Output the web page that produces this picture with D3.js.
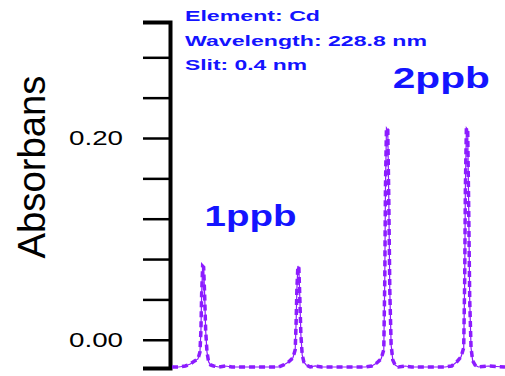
<!DOCTYPE html>
<html>
<head>
<meta charset="utf-8">
<script src="https://cdn.jsdelivr.net/npm/d3@7"></script>
<style>
  body { margin: 0; background: #fff; }
  svg { display: block; }
</style>
</head>
<body>
<div id="plot"><svg width="505" height="376"></svg></div>
<script>
// signal trace: time (s) and absorbance
const time = [0, 2, 4, 5.5, 6.8, 7.8, 8.4, 8.7, 8.9, 9.2, 9.5, 9.8, 10.1, 10.5, 11.0, 11.6, 12.5, 14, 16, 18,
  30, 32, 33.5, 35, 36.3, 37.0, 37.3, 37.5, 37.8, 38.1, 38.4, 38.7, 39.1, 39.6, 40.3, 41.5, 43, 45,
  56, 58, 60, 61.5, 62.8, 63.6, 63.9, 64.1, 64.4, 64.8, 65.1, 65.4, 65.8, 66.3, 67, 68, 70, 72,
  80, 82, 84, 85.5, 86.8, 87.6, 87.9, 88.1, 88.4, 88.8, 89.1, 89.4, 89.8, 90.3, 91, 92, 95, 100];
const absorb = [-0.027, -0.027, -0.026, -0.024, -0.021, -0.019, -0.012, 0.01, 0.045, 0.073, 0.072, 0.045, 0.01, -0.012, -0.022, -0.025, -0.026, -0.027, -0.026, -0.027,
  -0.027, -0.027, -0.025, -0.022, -0.018, -0.01, 0.02, 0.05, 0.073, 0.071, 0.04, 0.005, -0.015, -0.022, -0.025, -0.027, -0.026, -0.027,
  -0.027, -0.027, -0.026, -0.023, -0.019, -0.01, 0.06, 0.15, 0.21, 0.208, 0.14, 0.05, -0.005, -0.02, -0.025, -0.027, -0.026, -0.027,
  -0.027, -0.027, -0.026, -0.022, -0.017, -0.008, 0.06, 0.15, 0.21, 0.208, 0.13, 0.04, -0.008, -0.021, -0.025, -0.027, -0.026, -0.027];

const yTicks = [-0.028, 0.0, 0.04, 0.08, 0.12, 0.16, 0.2, 0.24, 0.28];
const yLabels = [0.0, 0.2];

const infoLines = ["Element: Cd", "Wavelength: 228.8 nm", "Slit: 0.4 nm"];
const infoWidths = [135, 242, 122];

const peakLabels = [
  { text: "1ppb", t: 9.8, a: 0.113, w: 92 },
  { text: "2ppb", t: 66.3, a: 0.25, w: 97 }
];

const svg = d3.select("#plot svg");
const x = d3.scaleLinear().domain([0, 100]).range([172, 505]);
const y = d3.scaleLinear().domain([-0.028, 0.315]).range([368, 22]);

const purple = "#8c1cff";
const blue = "#1414ff";

// y axis
const axis = svg.append("g")
  .attr("transform", "translate(170,0)")
  .call(d3.axisLeft(y)
    .tickValues(yTicks)
    .tickSize(27)
    .tickPadding(20)
    .tickFormat(d => yLabels.includes(d) ? d3.format(".2f")(d) : ""));

axis.select(".domain").attr("stroke", "#000").attr("stroke-width", 4);
axis.selectAll(".tick line").attr("stroke", "#000").attr("stroke-width", 2.5);
axis.selectAll(".tick text")
  .attr("fill", "#000")
  .style("font-family", "Liberation Sans, Arial, sans-serif")
  .style("font-size", "21px")
  .attr("textLength", 54)
  .attr("lengthAdjust", "spacingAndGlyphs");

svg.append("text")
  .attr("transform", "translate(45,167) rotate(-90)")
  .attr("text-anchor", "middle")
  .style("font-family", "Liberation Sans, Arial, sans-serif")
  .style("font-size", "38px")
  .attr("textLength", 183)
  .attr("lengthAdjust", "spacingAndGlyphs")
  .text("Absorbans");

// signal
const pts = time.map((t, i) => [t, absorb[i]]);
const line = d3.line().x(d => x(d[0])).y(d => y(d[1]));

svg.append("path")
  .datum(pts)
  .attr("fill", "none")
  .attr("stroke", purple)
  .attr("stroke-width", 1.2)
  .attr("d", line);

svg.append("path")
  .datum(pts)
  .attr("fill", "none")
  .attr("stroke", purple)
  .attr("stroke-width", 3.5)
  .attr("stroke-dasharray", "6,4")
  .attr("d", line);

// info text
svg.selectAll("text.info")
  .data(infoLines)
  .enter()
  .append("text")
  .attr("class", "info")
  .attr("x", 185)
  .attr("y", (d, i) => 21 + i * 24.5)
  .attr("fill", blue)
  .style("font-family", "Liberation Sans, Arial, sans-serif")
  .style("font-size", "15px")
  .style("font-weight", "bold")
  .attr("textLength", (d, i) => infoWidths[i])
  .attr("lengthAdjust", "spacingAndGlyphs")
  .text(d => d);

svg.selectAll("text.peak")
  .data(peakLabels)
  .enter()
  .append("text")
  .attr("class", "peak")
  .attr("x", d => x(d.t))
  .attr("y", d => y(d.a))
  .attr("fill", blue)
  .style("font-family", "Liberation Sans, Arial, sans-serif")
  .style("font-size", "30px")
  .style("font-weight", "bold")
  .attr("textLength", d => d.w)
  .attr("lengthAdjust", "spacingAndGlyphs")
  .text(d => d.text);
</script>
</body>
</html>
